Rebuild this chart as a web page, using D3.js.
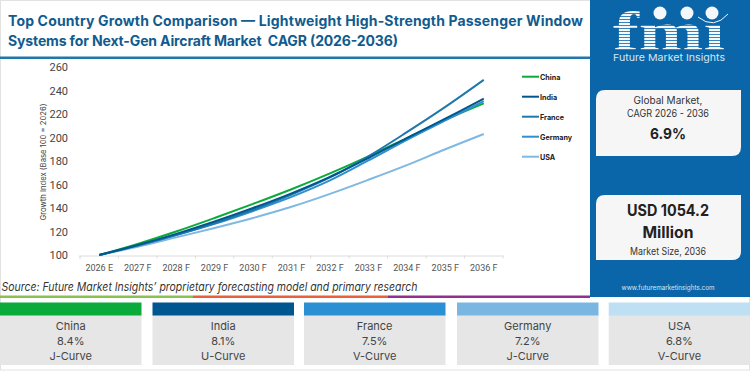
<!DOCTYPE html>
<html>
<head>
<meta charset="utf-8">
<script src="https://cdn.jsdelivr.net/npm/d3@7"></script>
<style>
  html, body { margin: 0; padding: 0; background: #fff; }
  svg { display: block; }
  text { font-family: Inter, "Open Sans", sans-serif; }
</style>
</head>
<body>
<div id="chart"></div>
<script>
const years = ['2026 E', '2027 F', '2028 F', '2029 F', '2030 F', '2031 F', '2032 F', '2033 F', '2034 F', '2035 F', '2036 F'];
const china = [100, 109.5, 120, 131.5, 143.5, 156, 169.5, 184, 199.5, 215, 229];
const india = [100, 108.5, 118, 128.5, 140, 152.5, 166.5, 182.5, 199.5, 216, 233];
const france = [100, 108, 117, 127, 138.5, 151.5, 166, 184, 204.5, 226, 249];
const germany = [100, 108, 117, 126.5, 137.5, 149.5, 163.5, 180.5, 198, 214.5, 231];
const usa = [100, 107, 115, 123, 131.5, 141, 152, 164, 176.5, 190, 203];
const yTicks = [100, 120, 140, 160, 180, 200, 220, 240, 260];

const seriesNames = ['China', 'India', 'France', 'Germany', 'USA'];
const seriesValues = [china, india, france, germany, usa];
const seriesColors = ['#0aab3a', '#00578f', '#1f78ab', '#2f8fd0', '#7fb8e2'];
const drawOrder = [4, 0, 3, 2, 1];

const cagrs = ['8.4%', '8.1%', '7.5%', '7.2%', '6.8%'];
const curves = ['J-Curve', 'U-Curve', 'V-Curve', 'J-Curve', 'V-Curve'];
const tileColors = ['#0aab3a', '#00578f', '#2b8fd4', '#79b7e2', '#bfe0f3'];
const tileLeft = [0, 152.5, 304, 457, 608.7];

const titleLines = [
  'Top Country Growth Comparison \u2014 Lightweight High-Strength Passenger Window',
  'Systems for Next-Gen Aircraft Market  CAGR (2026-2036)'
];

const svg = d3.select('#chart').append('svg').attr('width', 750).attr('height', 371);

// page frame
svg.append('rect').attr('x', 0.5).attr('y', 0.5).attr('width', 749).attr('height', 369.5)
  .attr('fill', 'none').attr('stroke', '#e2e2e2');

// title
svg.selectAll('.title').data(titleLines).enter().append('text')
  .attr('class', 'title')
  .attr('x', 8)
  .attr('y', (d, i) => 25.5 + i * 20)
  .attr('font-size', 14)
  .attr('font-weight', 700)
  .attr('fill', '#115b8e')
  .attr('textLength', (d, i) => i === 0 ? 575 : 390)
  .attr('lengthAdjust', 'spacing')
  .attr('xml:space', 'preserve')
  .text(d => d);
svg.append('rect').attr('x', 0).attr('y', 56.5).attr('width', 590).attr('height', 2.5).attr('fill', '#1f78ab');

// chart
const x = d3.scaleBand().domain(years).range([80, 503]);
const y = d3.scaleLinear().domain([100, 260]).range([255, 67]);

const xAxis = svg.append('g').attr('transform', 'translate(0,255.5)')
  .call(d3.axisBottom(x).tickSize(0).tickPadding(9));
xAxis.select('.domain').attr('stroke', '#dcdcdc');
xAxis.selectAll('text').style('font-family', 'Roboto').attr('font-size', 9).attr('fill', '#555');
xAxis.selectAll('.edge').data(x.range().concat(years.map(d => x(d)))).enter().append('line')
  .attr('class', 'edge')
  .attr('x1', d => d).attr('x2', d => d)
  .attr('y1', 0).attr('y2', 3)
  .attr('stroke', '#dcdcdc');

const yAxis = svg.append('g').attr('transform', 'translate(73,0)')
  .call(d3.axisLeft(y).tickValues(yTicks).tickSize(0).tickPadding(5));
yAxis.select('.domain').remove();
yAxis.selectAll('text').style('font-family', 'Roboto').attr('font-size', 11).attr('fill', '#444');

svg.append('text')
  .attr('transform', 'translate(46,162) rotate(-90)')
  .attr('text-anchor', 'middle')
  .attr('font-size', 8)
  .attr('fill', '#444')
  .attr('textLength', 117)
  .attr('lengthAdjust', 'spacingAndGlyphs')
  .text('Growth Index (Base 100 = 2026)');

const line = d3.line()
  .x((d, i) => x(years[i]) + x.bandwidth() / 2)
  .y(d => y(d))
  .curve(d3.curveCatmullRom);

svg.selectAll('.series').data(drawOrder).enter().append('path')
  .attr('class', 'series')
  .attr('fill', 'none')
  .attr('stroke', d => seriesColors[d])
  .attr('stroke-width', 2)
  .attr('d', d => line(seriesValues[d]));

// legend
const legend = svg.selectAll('.legend').data(seriesNames).enter().append('g')
  .attr('class', 'legend')
  .attr('transform', (d, i) => `translate(522,${76.7 + i * 20})`);
legend.append('line')
  .attr('x1', 0).attr('x2', 17)
  .attr('stroke', (d, i) => seriesColors[i])
  .attr('stroke-width', 2);
legend.append('text')
  .attr('x', 18)
  .attr('y', 3)
  .attr('font-size', 7.2)
  .attr('font-weight', 700)
  .attr('fill', '#222')
  .text(d => d);

// source + rainbow rule
svg.append('text')
  .attr('x', 1.5).attr('y', 291)
  .attr('font-size', 11.4)
  .attr('font-style', 'italic')
  .attr('fill', '#333')
  .attr('textLength', 416)
  .attr('lengthAdjust', 'spacingAndGlyphs')
  .text('Source: Future Market Insights\u2019 proprietary forecasting model and primary research');
const ruleStops = [[0, 193, '#8cc152'], [193, 388, '#e9603a'], [388, 590, '#93308f']];
svg.selectAll('.rule').data(ruleStops).enter().append('rect')
  .attr('class', 'rule')
  .attr('x', d => d[0]).attr('y', 295.5)
  .attr('width', d => d[1] - d[0]).attr('height', 2.5)
  .attr('fill', d => d[2]);

// side panel
svg.append('rect').attr('x', 590).attr('y', 0).attr('width', 160).attr('height', 297).attr('fill', '#0a66a8');

const logo = svg.append('g');
logo.append('text')
  .attr('x', 613).attr('y', 50)
  .attr('font-size', 55)
  .style('font-family', '"Liberation Serif", serif')
  .attr('font-weight', 700)
  .attr('fill', '#f4f8fb')
  .attr('textLength', 112)
  .attr('lengthAdjust', 'spacingAndGlyphs')
  .text('fm\u0131');
logo.selectAll('.stripe').data(d3.range(10, 52, 3)).enter().append('rect')
  .attr('class', 'stripe')
  .attr('x', 610).attr('y', d => d)
  .attr('width', 118).attr('height', 0.8)
  .attr('fill', '#0a66a8');
logo.selectAll('.globe').data([660, 687, 712]).enter().append('circle')
  .attr('class', 'globe')
  .attr('cx', d => d).attr('cy', 13).attr('r', 6.5)
  .attr('fill', '#f4f8fb');
logo.append('path')
  .attr('d', 'M698,17Q714,30 728,14')
  .attr('fill', 'none')
  .attr('stroke', '#f4f8fb');
logo.append('text')
  .attr('x', 669).attr('y', 61)
  .attr('text-anchor', 'middle')
  .attr('font-size', 9.5)
  .attr('fill', '#d5e6f3')
  .attr('textLength', 112)
  .attr('lengthAdjust', 'spacingAndGlyphs')
  .text('Future Market Insights');

function card(top, bottom) {
  const l = 596, r = 741, c = 9;
  return `M${l},${top + c}Q${l},${top} ${l + c},${top}L${r},${top}L${r},${bottom - c}Q${r},${bottom} ${r - c},${bottom}L${l},${bottom}Z`;
}
svg.append('path').attr('d', card(90, 156)).attr('fill', '#f6f6f6');
svg.append('path').attr('d', card(195, 260)).attr('fill', '#f6f6f6');

function centerText(t, yPos, size, weight, color, width) {
  svg.append('text')
    .attr('x', 668).attr('y', yPos)
    .attr('text-anchor', 'middle')
    .attr('font-size', size)
    .attr('font-weight', weight)
    .attr('fill', color)
    .attr('textLength', width)
    .attr('lengthAdjust', 'spacingAndGlyphs')
    .text(t);
}
centerText('Global Market,', 104, 10, 400, '#333', 69);
centerText('CAGR 2026 - 2036', 116.5, 10, 400, '#333', 82);
centerText('6.9%', 138.5, 15, 700, '#222', 36);
centerText('USD 1054.2', 215.5, 15.5, 700, '#222', 82);
centerText('Million', 238, 15.5, 700, '#222', 51);
centerText('Market Size, 2036', 254.5, 10, 400, '#333', 76);
centerText('www.futuremarketinsights.com', 290, 7.2, 400, '#d5e6f3', 93);

// country tiles
const tiles = svg.selectAll('.tile').data(seriesNames).enter().append('g')
  .attr('class', 'tile')
  .attr('transform', (d, i) => `translate(${tileLeft[i]},0)`);
tiles.append('rect').attr('y', 315).attr('width', 141.5).attr('height', 50).attr('fill', '#e6e6e6');
tiles.append('rect').attr('y', 302.5).attr('width', 141.5).attr('height', 13).attr('fill', (d, i) => tileColors[i]);
const tileRows = [seriesNames, cagrs, curves];
tileRows.forEach((row, r) => {
  tiles.append('text')
    .attr('x', 70.7)
    .attr('y', 330 + r * 15)
    .attr('text-anchor', 'middle')
    .attr('font-size', 11)
    .attr('fill', '#444')
    .text((d, i) => row[i]);
});
</script>
</body>
</html>
